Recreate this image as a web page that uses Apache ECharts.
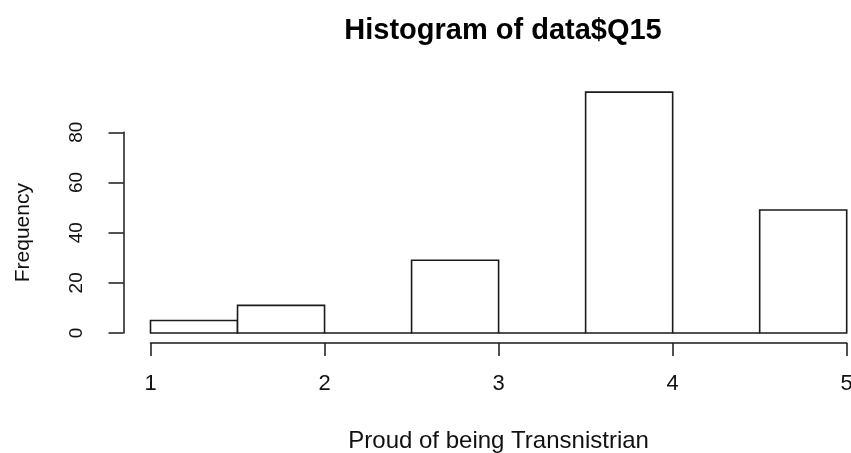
<!DOCTYPE html>
<html>
<head>
<meta charset="utf-8">
<script src="https://cdn.jsdelivr.net/npm/echarts@6/dist/echarts.min.js"></script>
<style>html,body{margin:0;padding:0;background:#fff}#c{width:851px;height:453px}</style>
</head>
<body>
<div id="c"></div>
<script>
const binStarts = [1, 1.5, 2, 2.5, 3, 3.5, 4, 4.5];
const binEnds = [1.5, 2, 2.5, 3, 3.5, 4, 4.5, 5];
const counts = [5, 11, 0, 29, 0, 96, 0, 49];
const xTicks = [1, 2, 3, 4, 5];
const yTicks = [0, 20, 40, 60, 80];
const titleText = 'Histogram of data$Q15';
const xName = 'Proud of being Transnistrian';
const yName = 'Frequency';

const font = 'Liberation Sans, Arial, sans-serif';
const lineColor = '#1a1a1a';

const data = binStarts.map((s, i) => [s, binEnds[i], counts[i]]);

const chart = echarts.init(document.getElementById('c'), null, {renderer: 'canvas'});
chart.setOption({
  animation: false,
  backgroundColor: '#ffffff',
  title: {
    text: titleText,
    left: 498, top: 11, textAlign: 'center',
    textStyle: {fontFamily: font, fontSize: 29, fontWeight: 'bold', color: '#000'}
  },
  grid: {left: 150.5, right: 4.3, top: 132.3, bottom: 120, outerBoundsMode: 'none', containLabel: false},
  xAxis: {
    type: 'value', min: xTicks[0], max: xTicks[xTicks.length - 1], interval: 1,
    offset: 10,
    axisLine: {show: true, onZero: false, lineStyle: {color: lineColor, width: 1.5}},
    axisTick: {show: true, length: 13, lineStyle: {color: lineColor, width: 1.5}},
    axisLabel: {margin: 30, fontFamily: font, fontSize: 22, color: '#111'},
    splitLine: {show: false},
    name: xName, nameLocation: 'middle', nameGap: 86,
    nameTextStyle: {fontFamily: font, fontSize: 24, color: '#111'}
  },
  yAxis: {
    type: 'value', min: yTicks[0], max: yTicks[yTicks.length - 1], interval: 20,
    offset: 27,
    axisLine: {show: true, lineStyle: {color: lineColor, width: 1.5}},
    axisTick: {show: true, length: 15, lineStyle: {color: lineColor, width: 1.5}},
    axisLabel: {rotate: 90, margin: 37, fontFamily: font, fontSize: 19, color: '#111'},
    splitLine: {show: false},
    name: yName, nameLocation: 'middle', nameGap: 90, nameRotate: 90,
    nameTextStyle: {fontFamily: font, fontSize: 21, color: '#111'}
  },
  series: [{
    type: 'custom',
    clip: false,
    data: data,
    encode: {x: [0, 1], y: 2},
    renderItem: function (params, api) {
      const p0 = api.coord([api.value(0), api.value(2)]);
      const p1 = api.coord([api.value(1), 0]);
      return {
        type: 'rect',
        shape: {x: p0[0], y: p0[1], width: p1[0] - p0[0], height: p1[1] - p0[1]},
        style: {fill: '#ffffff', stroke: lineColor, lineWidth: 1.6}
      };
    }
  }]
});
</script>
</body>
</html>
